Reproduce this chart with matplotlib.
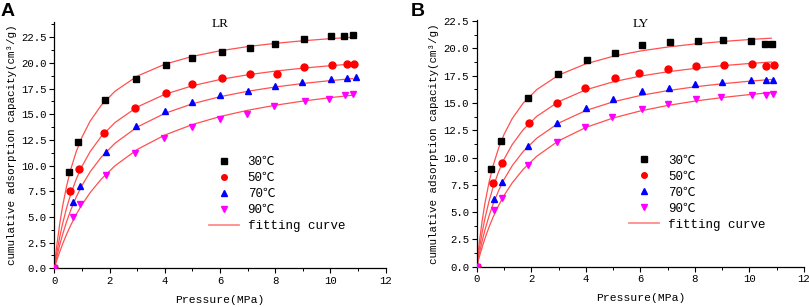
import matplotlib
matplotlib.use("Agg")

import matplotlib.pyplot as plt
from matplotlib.ticker import MultipleLocator

FONT = ["Liberation Mono", "Noto Sans CJK SC", "DejaVu Sans"]
plt.rcParams["font.family"] = FONT

# ── Data: measured points (pressure MPa, adsorption cm3/g) ───────────────────
LABELS = ["30℃", "50℃", "70℃", "90℃"]

lr_p = [
    [0, 0.53, 0.87, 1.84, 2.95, 4.05, 5.0, 6.06, 7.07, 8.0, 9.05, 10.03, 10.5, 10.8],
    [0, 0.58, 0.91, 1.81, 2.92, 4.04, 5.0, 6.06, 7.07, 8.06, 9.05, 10.05, 10.6, 10.86],
    [0, 0.67, 0.93, 1.87, 2.96, 4.01, 4.98, 5.99, 7.0, 7.99, 8.96, 10.03, 10.6, 10.92],
    [0, 0.67, 0.94, 1.86, 2.91, 3.99, 4.98, 6.0, 6.99, 7.94, 9.08, 9.93, 10.53, 10.8],
]
lr_v = [
    [0, 9.36, 12.3, 16.35, 18.43, 19.76, 20.5, 21.05, 21.44, 21.86, 22.28, 22.6, 22.64, 22.67],
    [0, 7.51, 9.65, 13.18, 15.6, 17.07, 17.94, 18.49, 18.88, 18.95, 19.6, 19.82, 19.92, 19.88],
    [0, 6.47, 8.03, 11.33, 13.86, 15.29, 16.19, 16.84, 17.26, 17.75, 18.13, 18.4, 18.52, 18.62],
    [0, 5.01, 6.22, 9.13, 11.23, 12.73, 13.76, 14.58, 15.06, 15.77, 16.29, 16.52, 16.91, 17.0],
]

ly_p = [
    [0, 0.51, 0.88, 1.87, 2.99, 4.03, 5.07, 6.05, 7.09, 8.1, 9.02, 10.05, 10.57, 10.81],
    [0, 0.61, 0.92, 1.93, 2.95, 3.97, 5.07, 5.96, 7.0, 8.03, 9.08, 10.08, 10.6, 10.9],
    [0, 0.63, 0.92, 1.89, 2.95, 4.01, 5.01, 6.05, 7.05, 8.0, 8.98, 10.05, 10.6, 10.87],
    [0, 0.65, 0.92, 1.87, 2.93, 3.97, 4.95, 6.06, 7.01, 8.03, 8.96, 10.08, 10.6, 10.87],
]
ly_v = [
    [0, 8.93, 11.49, 15.45, 17.68, 18.89, 19.6, 20.27, 20.57, 20.66, 20.72, 20.63, 20.42, 20.42],
    [0, 7.68, 9.51, 13.16, 14.99, 16.4, 17.31, 17.73, 18.13, 18.35, 18.44, 18.53, 18.35, 18.5],
    [0, 6.25, 7.77, 11.06, 13.16, 14.57, 15.39, 16.09, 16.4, 16.76, 16.91, 17.07, 17.07, 17.13],
    [0, 5.18, 6.34, 9.36, 11.43, 12.8, 13.71, 14.48, 14.87, 15.33, 15.54, 15.76, 15.76, 15.85],
]

# ── Data: fitting curves ─────────────────────────────────────────────────────
fit_p = [0, 0.05, 0.1, 0.2, 0.3, 0.45, 0.6, 0.8, 1.0, 1.3, 1.7, 2.2,
         3, 4, 5, 6, 7, 8, 9, 10, 10.8]
lr_fit = [
    [0, 1.267, 2.409, 4.385, 6.035, 8.056, 9.676, 11.395, 12.755, 14.334, 15.874,
     17.244, 18.707, 19.866, 20.632, 21.178, 21.585, 21.901, 22.153, 22.359, 22.498],
    [0, 0.863, 1.661, 3.091, 4.334, 5.922, 7.250, 8.716, 9.919, 11.369, 12.840,
     14.197, 15.702, 16.935, 17.773, 18.380, 18.839, 19.199, 19.488, 19.726, 19.888],
    [0, 0.628, 1.221, 2.309, 3.286, 4.575, 5.692, 6.969, 8.051, 9.400, 10.821,
     12.182, 13.750, 15.084, 16.017, 16.706, 17.235, 17.654, 17.995, 18.277, 18.470],
    [0, 0.434, 0.850, 1.633, 2.355, 3.340, 4.224, 5.269, 6.188, 7.375, 8.680,
     9.987, 11.565, 12.974, 13.997, 14.774, 15.384, 15.876, 16.281, 16.619, 16.853],
]
ly_fit = [
    [0, 1.234, 2.341, 4.242, 5.817, 7.731, 9.254, 10.857, 12.117, 13.570, 14.979,
     16.224, 17.545, 18.586, 19.272, 19.758, 20.121, 20.402, 20.625, 20.808, 20.932],
    [0, 0.898, 1.722, 3.178, 4.427, 5.998, 7.292, 8.699, 9.838, 11.191, 12.544,
     13.773, 15.117, 16.204, 16.934, 17.459, 17.854, 18.163, 18.410, 18.613, 18.750],
    [0, 0.657, 1.270, 2.384, 3.370, 4.651, 5.743, 6.970, 7.995, 9.251, 10.551,
     11.773, 13.154, 14.308, 15.103, 15.685, 16.128, 16.477, 16.759, 16.992, 17.151],
    [0, 0.488, 0.951, 1.810, 2.590, 3.634, 4.550, 5.612, 6.526, 7.680, 8.917,
     10.121, 11.533, 12.756, 13.623, 14.270, 14.770, 15.170, 15.496, 15.767, 15.953],
]

COLORS = ["black", "#ff0000", "#0000ff", "#ff00ff"]
MARKERS = ["s", "o", "^", "v"]
FIT_COLOR = "#ff5050"


def draw_panel(ax, p_list, v_list, fits, title, ytop, title_y):
    for p, v, c, m, lab in zip(p_list, v_list, COLORS, MARKERS, LABELS):
        ax.plot(p, v, linestyle="none", marker=m, color=c, markersize=5,
                label=lab, zorder=3)
    for i, f in enumerate(fits):
        ax.plot(fit_p, f, color=FIT_COLOR, linewidth=0.9, zorder=2,
                label="fitting curve" if i == 0 else None)

    ax.set_xlim(0, 12)
    ax.set_ylim(0, ytop)
    ax.xaxis.set_major_locator(MultipleLocator(2))
    ax.xaxis.set_minor_locator(MultipleLocator(1))
    ax.yaxis.set_minor_locator(MultipleLocator(1.25))
    ax.set_yticks([0, 2.5, 5, 7.5, 10, 12.5, 15, 17.5, 20, 22.5])
    ax.yaxis.set_major_formatter(plt.FuncFormatter(lambda v, _: f"{v:.1f}"))
    for s in ["top", "right"]:
        ax.spines[s].set_visible(False)
    for s in ["left", "bottom"]:
        ax.spines[s].set_linewidth(0.9)
    ax.tick_params(which="major", direction="out", length=3.5, width=0.8,
                   labelsize=7.7, pad=2)
    ax.tick_params(which="minor", direction="out", length=2, width=0.7)

    ax.set_xlabel("Pressure(MPa)", fontsize=8.2, labelpad=6.5)
    ax.set_ylabel("cumulative adsorption capacity(cm³/g)", fontsize=7.8,
                  labelpad=3)
    ax.text(0.5, title_y, title, transform=ax.transAxes, ha="center",
            va="center", fontsize=9.5, family=["Liberation Serif"])

    leg = ax.legend(loc="upper left", bbox_to_anchor=(0.44, 0.49),
                    frameon=False, fontsize=9, handlelength=2.4,
                    handletextpad=0.7, labelspacing=0.32, borderpad=0.2,
                    markerscale=0.8)
    for h in leg.get_lines():
        if h.get_label() == "fitting curve":
            h.set_color("#ff8080")
            h.set_linewidth(1.2)


fig = plt.figure(figsize=(8.09, 3.07), dpi=100)
ax_a = fig.add_axes([0.0671, 0.126, 0.4097, 0.803])
ax_b = fig.add_axes([0.5893, 0.131, 0.4045, 0.804])

draw_panel(ax_a, lr_p, lr_v, lr_fit, "LR", 24, 0.99)
draw_panel(ax_b, ly_p, ly_v, ly_fit, "LY", 22.6, 0.985)

fig.text(0.001, 0.99, "A", ha="left", va="top", fontsize=14,
         fontweight="bold", family=["Liberation Sans"])
fig.text(0.508, 0.99, "B", ha="left", va="top", fontsize=14,
         fontweight="bold", family=["Liberation Sans"])

fig.savefig("out.png", dpi=100)
